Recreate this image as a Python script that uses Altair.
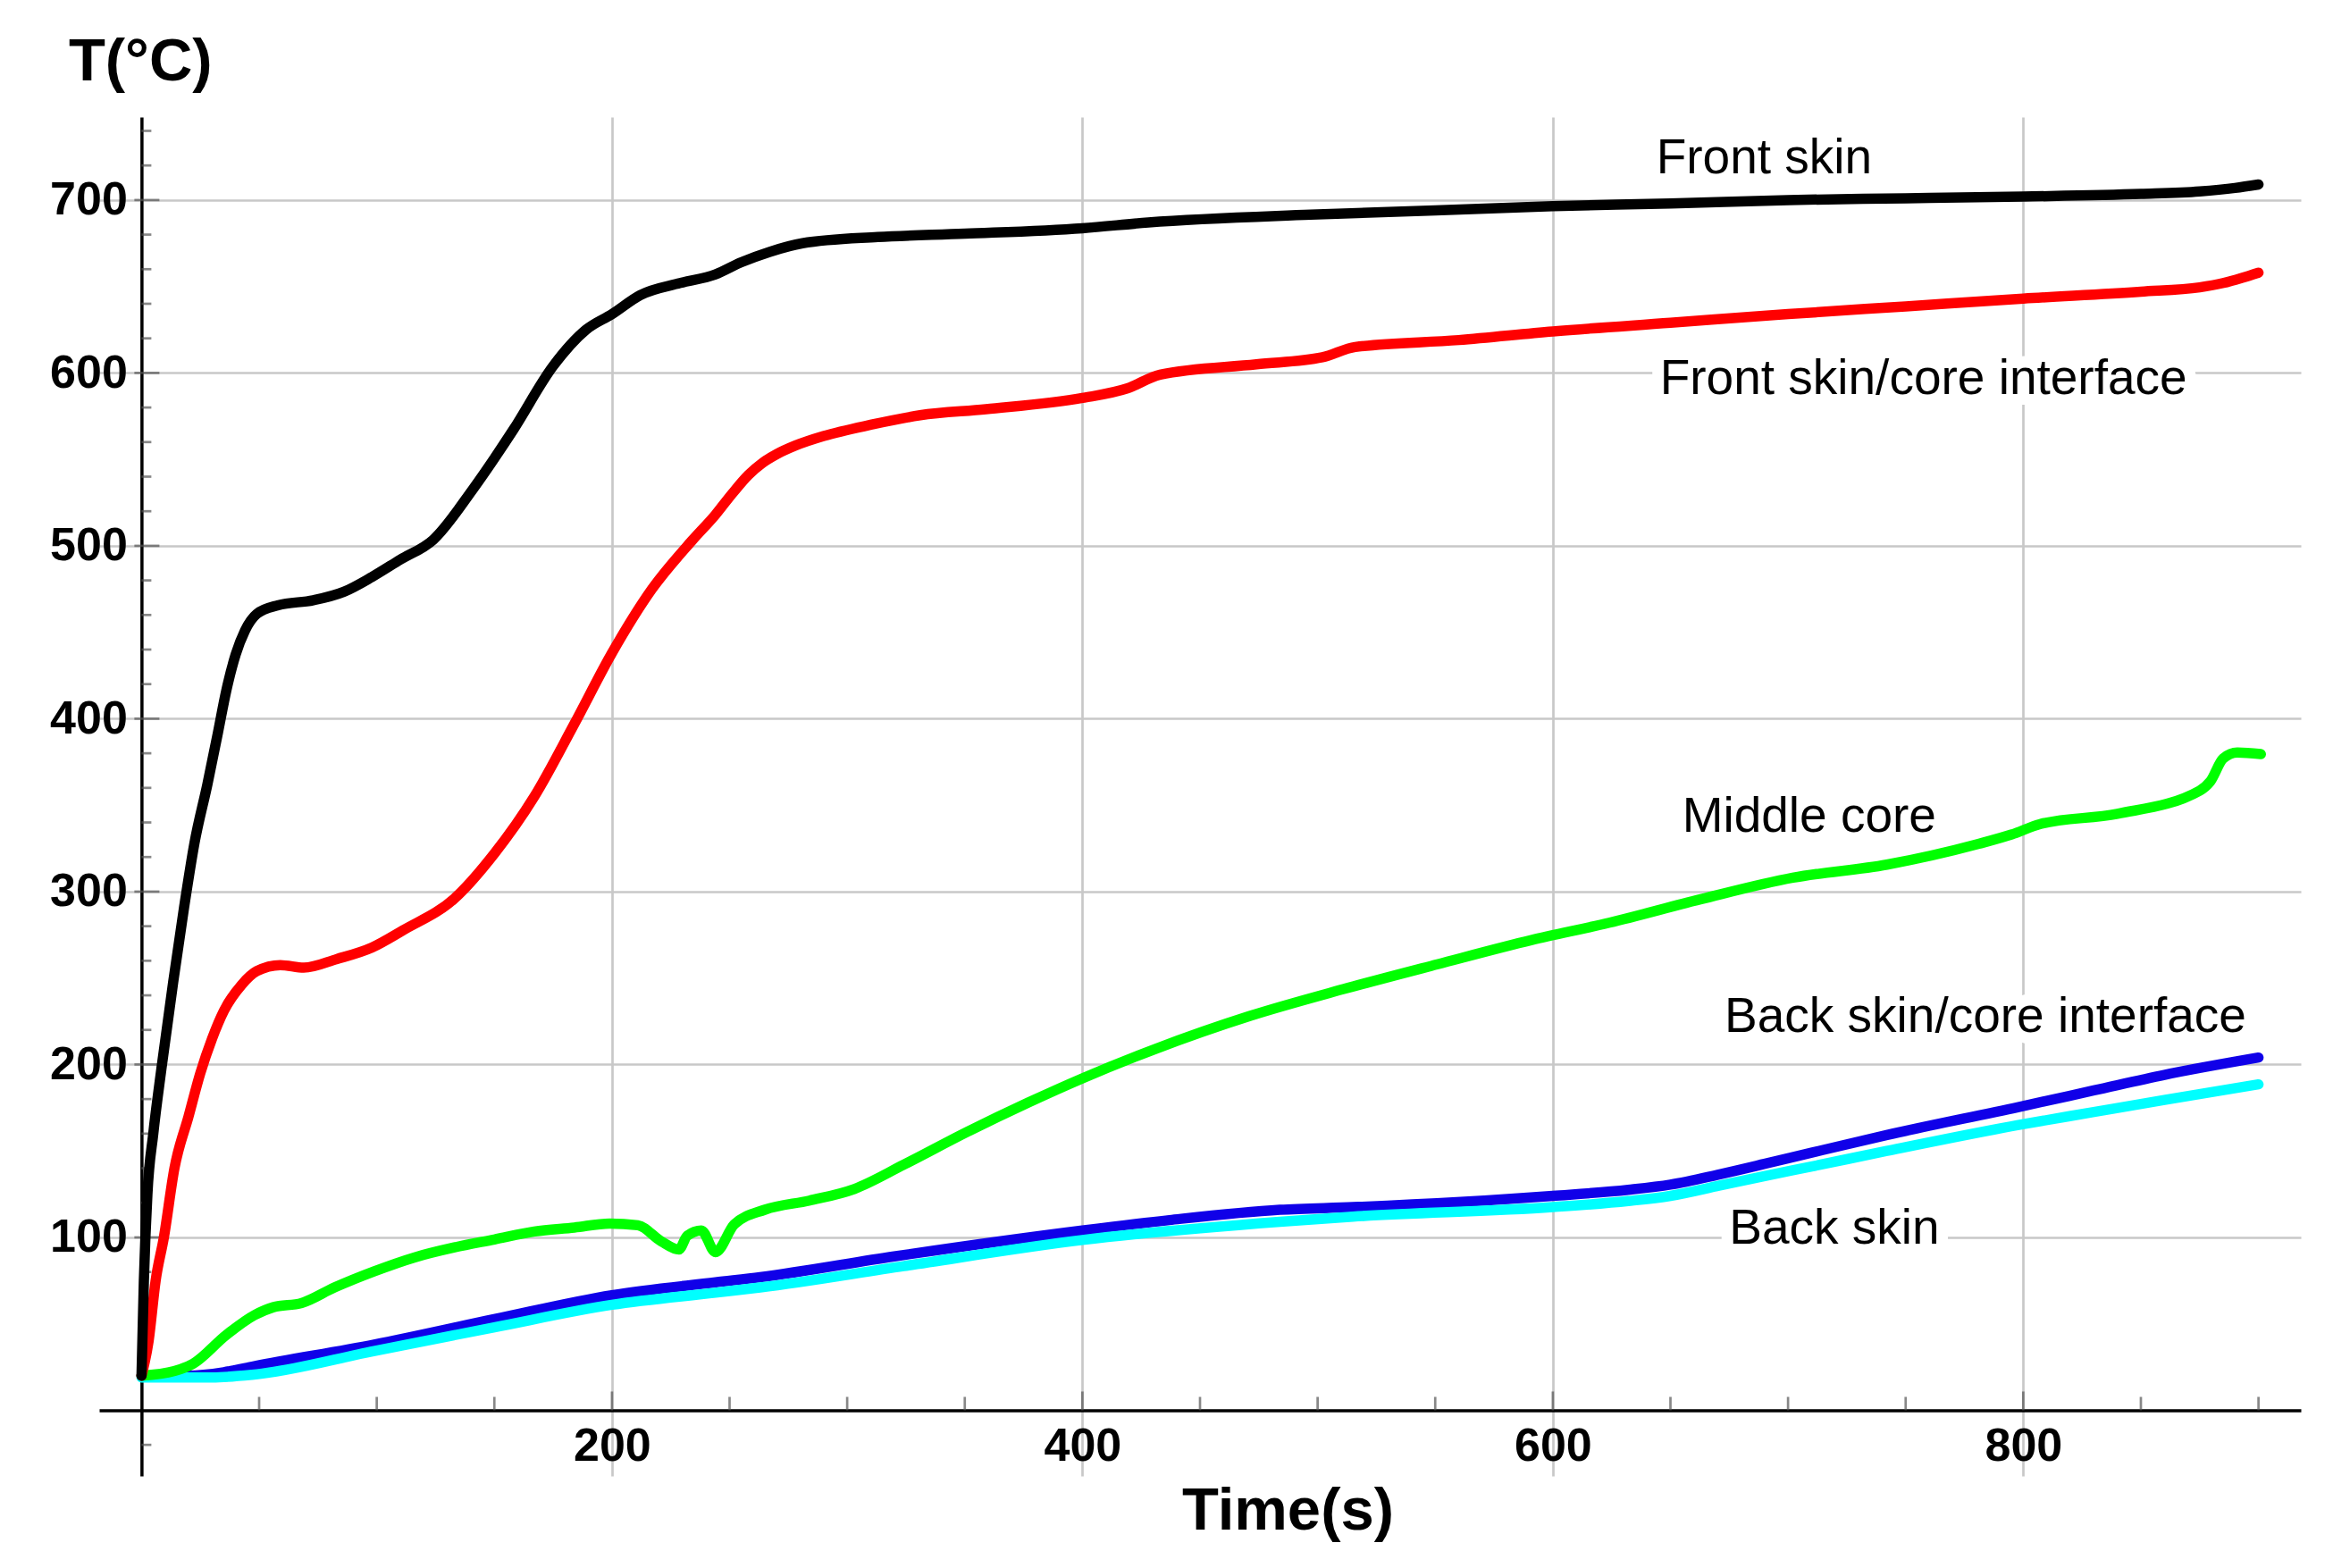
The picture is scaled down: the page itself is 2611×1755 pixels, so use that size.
import altair as alt
import pandas as pd

# ---- data (time in s, temperature in degC) ----
front_t = [0, 1, 2.5, 5, 8.5, 13.5, 18, 22.5, 28, 32.5, 36, 40, 44, 49, 58, 73, 86, 98, 110,
           124, 141, 158, 175, 189, 200, 212, 229, 244, 255, 267, 281, 313, 350, 400, 428, 497,
           550, 600, 650, 700, 750, 800, 850, 875, 890, 900]
front_T = [20, 75, 125, 160, 198, 248, 290, 328, 362, 392, 416, 437, 451, 460.6, 465.6, 468.5,
           473.4, 482, 492, 503.5, 533, 567, 604, 625, 634, 645, 652, 657, 664, 670, 675, 678.6,
           680.5, 683.7, 687, 691.5, 694, 696.5, 698, 700, 701, 702, 703.5, 705, 707, 709]

front_if_t = [0, 3, 6, 9.5, 14, 20, 25, 30, 35, 42.5, 49, 59, 69, 83, 98, 111, 133, 150, 167,
              184, 200, 217, 234, 244, 251, 258, 264, 270, 278, 290, 310, 331, 359, 400, 419,
              433, 474, 502, 516, 560, 600, 650, 700, 750, 800, 850, 875, 885, 893, 900]
front_if_T = [20, 40, 75, 100, 140, 170, 195, 215, 231, 246, 254, 257.5, 256, 261, 267.7,
              277.5, 296, 322, 355, 397, 438, 475, 503, 518, 530, 541, 548, 553, 558, 563.5,
              570, 575.5, 579, 585.5, 591, 599, 605, 609, 615, 619, 624, 629, 634, 638.5, 643,
              647, 649.5, 652, 655, 658]

middle_t = [0, 14, 22, 36, 48, 56, 68, 82, 99, 116, 133, 150, 167, 184, 199, 211, 221, 228.5,
            232, 238, 244, 252, 265, 284, 303, 324, 351, 377, 400, 431, 471, 511, 551, 591,
            624, 663, 702, 742, 781, 795, 807, 840, 875, 879.5, 885, 891, 901]
middle_T = [20, 22.7, 27, 43.5, 55, 59.6, 62, 71, 80.4, 88.4, 94.2, 98.8, 103.4, 105.7, 108,
            107, 97.7, 93, 101, 104, 91.5, 107.5, 116, 121.3, 128, 142, 161, 178, 192, 209,
            228, 243.6, 258, 272, 282, 295.6, 308, 315.6, 327.6, 333, 339, 345, 358.4, 363.7,
            377, 380.4, 379.5]

back_if_t = [0, 20, 35, 48, 99, 150, 200, 244, 263, 320, 400, 437, 484, 515, 600, 632, 650,
             671, 690, 710, 742, 798, 830, 860, 900]
back_if_T = [20, 20, 22, 25.5, 38, 52.7, 66.6, 74, 77, 89, 104, 110, 116, 117.5, 124, 127.5,
             130.5, 136.5, 142.5, 149, 159.2, 175.4, 185, 194, 204]

back_t = [0, 30, 47, 99, 150, 200, 244, 263, 324, 400, 484, 515, 600, 632, 650, 671, 690, 710,
          742, 798, 830, 860, 900]
back_T = [19, 19, 20.5, 34.3, 48, 61, 68, 71, 83.4, 98.5, 109, 112, 117.5, 121, 124, 130,
          135.5, 141, 150, 165, 172.5, 179.5, 188.5]

label_text = ["Front skin", "Front skin/core interface", "Middle core",
              "Back skin/core interface", "Back skin"]
label_t = [644, 645.5, 655, 673, 675]
label_T = [715.6, 588, 334.5, 219, 96.3]

x_ticks_major = [200, 400, 600, 800]
x_ticks_minor = [v for v in range(50, 901, 50) if v % 200]
y_ticks_major = [100, 200, 300, 400, 500, 600, 700]
y_ticks_minor = [v for v in range(-20, 741, 20) if v % 100]

# ---- layout ----
X_DOMAIN = [-18, 918]
Y_DOMAIN = [-38, 748]
W, H = 2464, 1521
px_x = W / (X_DOMAIN[1] - X_DOMAIN[0])
px_y = H / (Y_DOMAIN[1] - Y_DOMAIN[0])
FONT = "Liberation Sans"

x_scale = alt.Scale(domain=X_DOMAIN, nice=False, zero=False)
y_scale = alt.Scale(domain=Y_DOMAIN, nice=False, zero=False)

x_axis = alt.Axis(
    values=x_ticks_major, offset=Y_DOMAIN[0] * px_y, grid=True,
    gridColor="#c8c8c8", gridWidth=2.7, domainColor="black", domainWidth=3.5,
    ticks=False, labelFont=FONT, labelFontSize=52, labelFontWeight="bold",
    labelColor="black", labelPadding=15, labelFlush=False,
    title="Time(s)", titleFont=FONT, titleFontSize=67, titleFontWeight="bold",
    titleColor="black", titleAlign="center", titleBaseline="alphabetic",
    titleX=1330, titleY=133,
)
y_axis = alt.Axis(
    values=y_ticks_major, offset=X_DOMAIN[0] * px_x, grid=True,
    gridColor="#c8c8c8", gridWidth=2.7, domainColor="black", domainWidth=3.5,
    ticks=False, labelFont=FONT, labelFontSize=52, labelFontWeight="bold",
    labelColor="black", labelPadding=16, labelBaseline="middle", labelFlush=False,
    title="T(°C)", titleFont=FONT, titleFontSize=67, titleFontWeight="bold",
    titleColor="black", titleAngle=0, titleAlign="left", titleBaseline="alphabetic",
    titleX=-82, titleY=-42,
)


def xq(field):
    return alt.X(field, type="quantitative", scale=x_scale, axis=x_axis)


def yq(field):
    return alt.Y(field, type="quantitative", scale=y_scale, axis=y_axis)


series = [
    ("Back skin/core interface", back_if_t, back_if_T, "#1000e8"),
    ("Back skin", back_t, back_T, "#00ffff"),
    ("Middle core", middle_t, middle_T, "#00ff00"),
    ("Front skin/core interface", front_if_t, front_if_T, "#ff0000"),
    ("Front skin", front_t, front_T, "#000000"),
]

lines = []
for name, ts, temps, colour in series:
    frame = pd.DataFrame({"t": ts, "T": temps})
    lines.append(
        alt.Chart(frame)
        .mark_line(color=colour, strokeWidth=11.5, interpolate="monotone", strokeCap="round")
        .encode(x=xq("t"), y=yq("T"))
    )


def y_tick_layer(values, length, offset):
    return (
        alt.Chart(pd.DataFrame({"v": values}))
        .mark_tick(orient="horizontal", size=length, thickness=2.7, color="#555555",
                   xOffset=offset)
        .encode(x=alt.XDatum(0, type="quantitative", scale=x_scale, axis=x_axis), y=yq("v"))
    )


def x_tick_layer(values, length):
    return (
        alt.Chart(pd.DataFrame({"v": values}))
        .mark_tick(orient="vertical", size=length, thickness=2.7, color="#555555",
                   yOffset=-length / 2)
        .encode(x=xq("v"), y=alt.YDatum(0, type="quantitative", scale=y_scale, axis=y_axis))
    )


ticks = [
    y_tick_layer(y_ticks_minor, 11, 5.5),
    y_tick_layer(y_ticks_major, 28, 6),
    x_tick_layer(x_ticks_minor, 15),
    x_tick_layer(x_ticks_major, 21),
]

labels = pd.DataFrame({"label": label_text, "t": label_t, "T": label_T})
label_base = alt.Chart(labels).encode(x=xq("t"), y=yq("T"), text="label:N")
halo = label_base.mark_text(
    align="left", baseline="alphabetic", font=FONT, fontSize=55, color="white",
    stroke="white", strokeWidth=26, strokeJoin="round",
)
words = label_base.mark_text(
    align="left", baseline="alphabetic", font=FONT, fontSize=55, color="black",
)

chart = (
    alt.layer(*ticks, *lines, halo, words)
    .properties(
        width=W, height=H,
        autosize=alt.AutoSizeParams(type="none"),
        padding={"left": 103, "top": 123, "right": 27, "bottom": 95},
        background="white",
    )
    .configure_view(stroke=None)
)

chart.save("out.html", embed_options={"renderer": "svg", "actions": False})
